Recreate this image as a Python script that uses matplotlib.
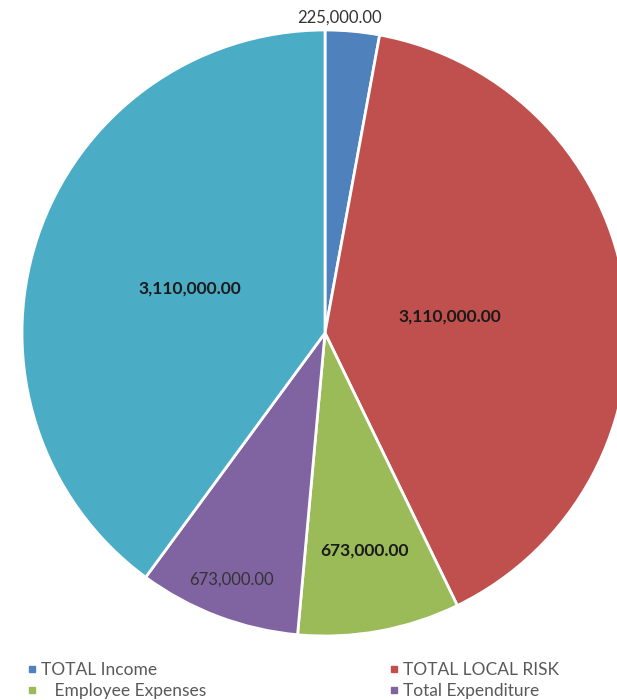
import matplotlib.pyplot as plt
from matplotlib.lines import Line2D
import numpy as np

# slice data (clockwise from the top)
labels = ["TOTAL Income", "TOTAL LOCAL RISK", "Employee Expenses",
          "Total Expenditure", "TOTAL"]
values = [225000, 3110000, 673000, 673000, 3110000]
colors = ["#4F81BD", "#C0504D", "#9BBB59", "#8064A2", "#4BACC6"]

# per-label look: distance from centre (fraction of radius), weight
label_dist = [1.045, 0.415, 0.73, 0.87, 0.47]
label_bold = [False, True, True, False, True]

plt.rcParams['font.family'] = ['Lato', 'DejaVu Sans']

fig = plt.figure(figsize=(6.17, 7.0), dpi=100)
ax = fig.add_axes([0, 0, 1, 1])

cx, cy, r = 325, 367, 303
wedges, _ = ax.pie(values, colors=colors, startangle=90, counterclock=False,
                   center=(cx, cy), radius=r,
                   wedgeprops=dict(edgecolor="white", linewidth=2))
ax.set_xlim(0, 617)
ax.set_ylim(0, 700)
ax.set_aspect("equal")
ax.axis("off")

# data labels
for i, (w, v, d, b) in enumerate(zip(wedges, values, label_dist, label_bold)):
    ang = np.deg2rad((w.theta1 + w.theta2) / 2)
    x = cx + d * r * np.cos(ang)
    y = cy + d * r * np.sin(ang)
    # the outside label sits a bit left of the slice middle
    xoff = -10 if d > 1 else 0
    ax.annotate(f"{v:,.2f}", (x, y), xytext=(xoff, 0), textcoords="offset points",
                ha="center", va="center",
                fontsize=12.5 if b else 12,
                fontweight="bold" if b else "normal",
                color="#1a1a1a" if b else "#333333")

# legend (last series is cut off in the reference)
order = [0, 2, 1, 3]
handles = [Line2D([], [], marker="s", linestyle="", color=colors[i], markersize=5)
           for i in order]
names = [labels[i] for i in order]
names[1] = "   " + names[1]
fig.legend(handles, names, loc="upper left", bbox_to_anchor=(0.03, 0.066),
           ncol=2, frameon=False, fontsize=12.5, labelcolor="#595959",
           handlelength=0.5, handletextpad=0.3, columnspacing=10.55,
           labelspacing=0.28, borderpad=0)

fig.savefig("out.png", dpi=100)
